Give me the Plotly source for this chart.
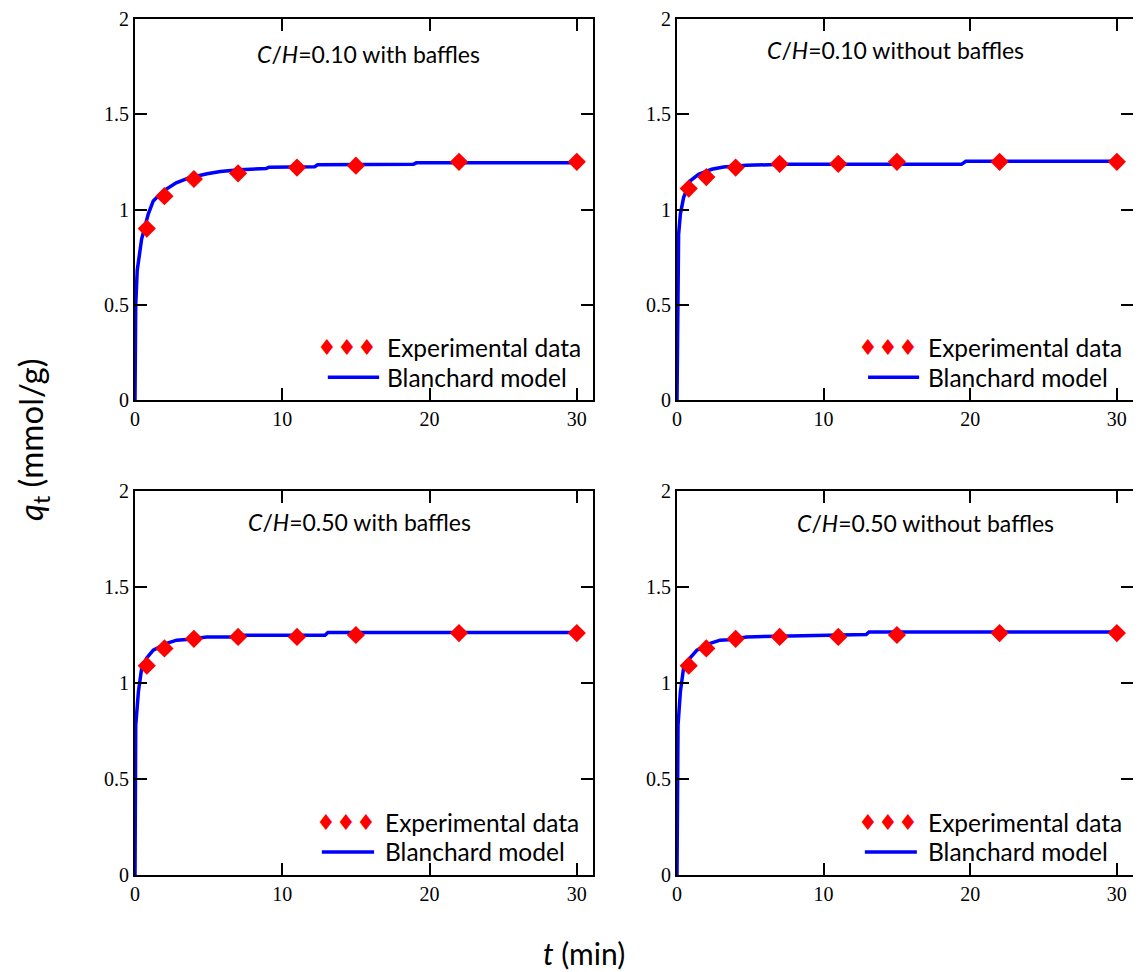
import plotly.graph_objects as go

# ---------------- data ----------------
t_exp = [0.8, 2, 4, 7, 11, 15, 22, 30]

q_exp_010_with = [0.90, 1.07, 1.16, 1.19, 1.22, 1.23, 1.25, 1.25]
q_exp_010_without = [1.11, 1.17, 1.22, 1.24, 1.24, 1.25, 1.25, 1.25]
q_exp_050_with = [1.09, 1.18, 1.23, 1.24, 1.24, 1.25, 1.26, 1.26]
q_exp_050_without = [1.09, 1.18, 1.23, 1.24, 1.24, 1.25, 1.26, 1.26]

t_mod_010_with = [0, 0.05, 0.15, 0.34, 0.45, 0.9, 1.24, 1.92, 2.8, 3.7, 4.9, 5.8, 7.1, 8.9, 9.1, 12.2, 12.4, 18.9, 19.1, 30]
q_mod_010_with = [0, 0.50, 0.68, 0.80, 0.845, 0.976, 1.045, 1.097, 1.14, 1.167, 1.188, 1.199, 1.209, 1.215, 1.222, 1.225, 1.235, 1.237, 1.245, 1.245]

t_mod_010_without = [0, 0.04, 0.11, 0.23, 0.45, 0.9, 1.47, 2.37, 3.17, 4.75, 7.2, 19.4, 19.7, 30]
q_mod_010_without = [0, 0.60, 0.87, 0.976, 1.063, 1.15, 1.185, 1.211, 1.223, 1.232, 1.237, 1.237, 1.253, 1.253]

t_mod_050_with = [0, 0.05, 0.23, 0.45, 0.8, 1.24, 2.15, 2.83, 3.5, 4.86, 6.7, 6.9, 12.9, 13.1, 30]
q_mod_050_with = [0, 0.78, 0.954, 1.075, 1.131, 1.171, 1.206, 1.223, 1.226, 1.24, 1.24, 1.249, 1.249, 1.263, 1.263]

t_mod_050_without = [0, 0.07, 0.23, 0.45, 0.9, 1.36, 2.26, 2.94, 3.5, 4.75, 6.8, 12.9, 13.1, 30]
q_mod_050_without = [0, 0.78, 0.954, 1.079, 1.131, 1.171, 1.206, 1.223, 1.225, 1.24, 1.244, 1.252, 1.266, 1.266]

panel_titles = [
    "<i>C</i>/<i>H</i>=0.10 with baffles",
    "<i>C</i>/<i>H</i>=0.10 without baffles",
    "<i>C</i>/<i>H</i>=0.50 with baffles",
    "<i>C</i>/<i>H</i>=0.50 without baffles",
]
x_ticks = [0, 10, 20, 30]
y_ticks = [0, 0.5, 1, 1.5, 2]
y_ticktext = ["0", "0.5", "1", "1.5", "2"]

exp_series = [q_exp_010_with, q_exp_010_without, q_exp_050_with, q_exp_050_without]
mod_t = [t_mod_010_with, t_mod_010_without, t_mod_050_with, t_mod_050_without]
mod_q = [q_mod_010_with, q_mod_010_without, q_mod_050_with, q_mod_050_without]

# ---------------- layout geometry ----------------
W, H = 1141, 972
OFF = 8  # page body margin


def px(x):
    return (x - OFF) / W


def py(y):
    return 1 - (y - OFF) / H


x_domains = [[px(135), px(593)], [px(677), px(1133)], [px(135), px(593)], [px(677), px(1133)]]
y_domains = [[py(400), py(19)], [py(400), py(19)], [py(875), py(491)], [py(875), py(491)]]
title_pos = [(0.509, 0.909), (0.48, 0.919), (0.491, 0.919), (0.546, 0.917)]
# (diamond centre x, text left x, line x0, line x1) in axis-domain units
leg_pos = [(0.463, 0.546, 0.421, 0.533), (0.463, 0.546, 0.419, 0.531),
           (0.461, 0.541, 0.408, 0.522), (0.463, 0.546, 0.412, 0.526)]
diamond_step = 0.0437

SANS = "Lato, 'Open Sans', sans-serif"
SERIF = "'Liberation Serif', 'Times New Roman', serif"

fig = go.Figure()
annotations = []
shapes = []

for i in range(4):
    sfx = "" if i == 0 else str(i + 1)
    xa, ya = "x" + sfx, "y" + sfx
    fig.add_trace(go.Scatter(
        x=mod_t[i], y=mod_q[i], mode="lines",
        line=dict(color="#0000FF", width=3.5),
        xaxis=xa, yaxis=ya, showlegend=False, name="Blanchard model"))
    fig.add_trace(go.Scatter(
        x=t_exp, y=exp_series[i], mode="markers",
        marker=dict(symbol="diamond", size=14, color="#FF0000", line=dict(width=0)),
        xaxis=xa, yaxis=ya, showlegend=False, name="Experimental data"))

    common = dict(showgrid=False, zeroline=False, showline=True, linewidth=2,
                  linecolor="black", mirror="allticks", ticks="inside", ticklen=12,
                  tickwidth=2, tickcolor="black", automargin=False,
                  ticklabeloverflow="allow",
                  tickfont=dict(family=SERIF, size=20, color="black"))
    fig.layout["xaxis" + sfx] = dict(domain=x_domains[i], range=[0, 31.1], tickvals=x_ticks,
                                     anchor=ya, **common)
    fig.layout["yaxis" + sfx] = dict(domain=y_domains[i], range=[0, 2], tickvals=y_ticks,
                                     ticktext=y_ticktext, anchor=xa, **common)

    xr, yr = xa + " domain", ya + " domain"
    tx, ty = title_pos[i]
    annotations.append(dict(text=panel_titles[i], x=tx, y=ty, xref=xr, yref=yr,
                            showarrow=False, xanchor="center", yanchor="middle",
                            font=dict(family=SANS, size=23, color="black")))
    dx, txl, lx0, lx1 = leg_pos[i]
    for k in (-1, 0, 1):
        annotations.append(dict(text="♦", x=dx + k * diamond_step, y=0.138, xref=xr, yref=yr,
                                showarrow=False, xanchor="center", yanchor="middle",
                                font=dict(family="DejaVu Sans", size=22, color="#FF0000")))
    annotations.append(dict(text="Experimental data", x=txl, y=0.138, xref=xr, yref=yr,
                            showarrow=False, xanchor="left", yanchor="middle",
                            font=dict(family=SANS, size=24.5, color="black")))
    annotations.append(dict(text="Blanchard model", x=txl, y=0.06, xref=xr, yref=yr,
                            showarrow=False, xanchor="left", yanchor="middle",
                            font=dict(family=SANS, size=24.5, color="black")))
    shapes.append(dict(type="line", xref=xr, yref=yr, x0=lx0, x1=lx1, y0=0.06, y1=0.06,
                       line=dict(color="#0000FF", width=3.5)))

annotations.append(dict(text="<i>q</i><sub>t</sub> (mmol/g)", x=px(32), y=py(440),
                        xref="paper", yref="paper", showarrow=False, textangle=-90,
                        xanchor="center", yanchor="middle",
                        font=dict(family=SANS, size=33, color="black")))
annotations.append(dict(text="<i>t</i> (min)", x=px(584), y=py(953),
                        xref="paper", yref="paper", showarrow=False,
                        xanchor="center", yanchor="middle",
                        font=dict(family=SANS, size=30, color="black")))

fig.update_layout(width=W, height=H, margin=dict(l=0, r=0, t=0, b=0, pad=0),
                  template="none",
                  paper_bgcolor="white", plot_bgcolor="white",
                  annotations=annotations, shapes=shapes, showlegend=False)

fig.write_html("out.html")
